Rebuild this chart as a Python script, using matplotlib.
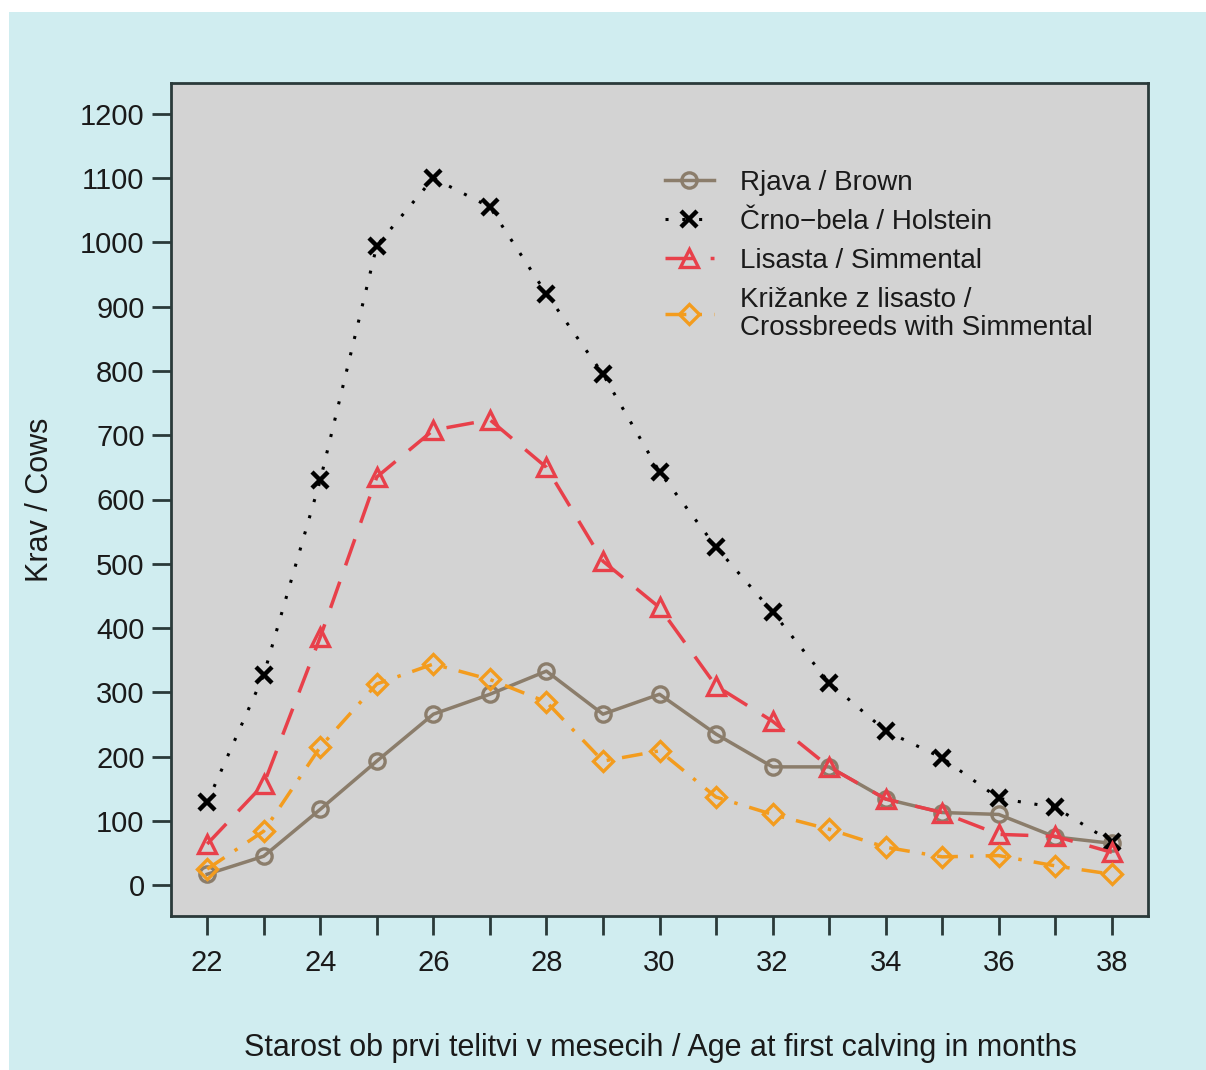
import matplotlib.pyplot as plt
from matplotlib.patches import Rectangle

plt.rcParams['font.family'] = ['Liberation Sans', 'DejaVu Sans']

months = list(range(22, 39))
brown = [17, 45, 118, 193, 266, 297, 333, 266, 297, 235, 184, 184, 134, 113, 110, 75, 65]
holstein = [129, 327, 630, 995, 1100, 1055, 920, 795, 643, 526, 425, 315, 240, 198, 135, 121, 67]
simmental = [64, 157, 386, 635, 708, 724, 650, 504, 432, 310, 255, 184, 134, 113, 79, 76, 51]
cross = [25, 84, 215, 313, 344, 320, 285, 193, 209, 137, 110, 87, 59, 44, 46, 30, 17]

labels = ['Rjava / Brown', 'Črno\u2212bela / Holstein', 'Lisasta / Simmental',
          'Križanke z lisasto /\nCrossbreeds with Simmental']
x_ticks = list(range(22, 39))
x_ticklabels = [str(m) if m % 2 == 0 else '' for m in x_ticks]
y_ticks = list(range(0, 1201, 100))

bg = '#d0edf0'
fig = plt.figure(figsize=(12.06, 10.70), dpi=100, facecolor='white')
fig.patches.append(Rectangle((9 / 1206, 0), 1, (1070 - 12) / 1070,
                             transform=fig.transFigure, facecolor=bg,
                             edgecolor='none', zorder=-10))

ax = fig.add_axes([171 / 1206, (1070 - 916) / 1070, 977 / 1206, 833 / 1070])
ax.set_facecolor('#d3d3d3')

ax.plot(months, brown, color='#8b7d6b', lw=2.5, linestyle='-',
        marker='o', ms=11, mfc='none', mew=2.4, label=labels[0])
ax.plot(months, holstein, color='black', lw=2.2, linestyle=(0, (1, 4.5)),
        marker='x', ms=11, mew=3.2, label=labels[1])
ax.plot(months, simmental, color='#e8404a', lw=2.5, linestyle=(0, (8, 5)),
        marker='^', ms=13, mfc='none', mew=2.4, label=labels[2])
ax.plot(months, cross, color='#f39c1e', lw=2.5, linestyle=(0, (6, 3.5, 1, 3.5)),
        marker='D', ms=10, mfc='none', mew=2.4, label=labels[3])

ax.set_xlim(21.36, 38.64)
ax.set_ylim(-48, 1248)
ax.set_xticks(x_ticks)
ax.set_xticklabels(x_ticklabels)
ax.set_yticks(y_ticks)
ax.tick_params(axis='both', direction='out', length=14, width=2,
               color='#2a3a3a', labelsize=21, labelcolor='#1a1a1a')
ax.tick_params(axis='x', pad=10)
ax.tick_params(axis='y', pad=5)
for sp in ax.spines.values():
    sp.set_color('#2a3a3a')
    sp.set_linewidth(2)

leg = ax.legend(loc='upper left', bbox_to_anchor=(0.5056, 0.8956),
                frameon=False, fontsize=20, handlelength=1.75,
                handletextpad=0.95, labelspacing=0.47, borderpad=0,
                borderaxespad=0)
for t in leg.get_texts():
    t.set_color('#1a1a1a')
    t.set_linespacing(1.1)

fig.text(40 / 1206, 1 - 500 / 1070, 'Krav / Cows', rotation=90,
         ha='center', va='center', fontsize=22, color='#1a1a1a')
fig.text(660 / 1206, 1 - 1048 / 1070,
         'Starost ob prvi telitvi v mesecih / Age at first calving in months',
         ha='center', va='center', fontsize=22, color='#1a1a1a')

fig.savefig('out.png', dpi=100, facecolor=fig.get_facecolor())
